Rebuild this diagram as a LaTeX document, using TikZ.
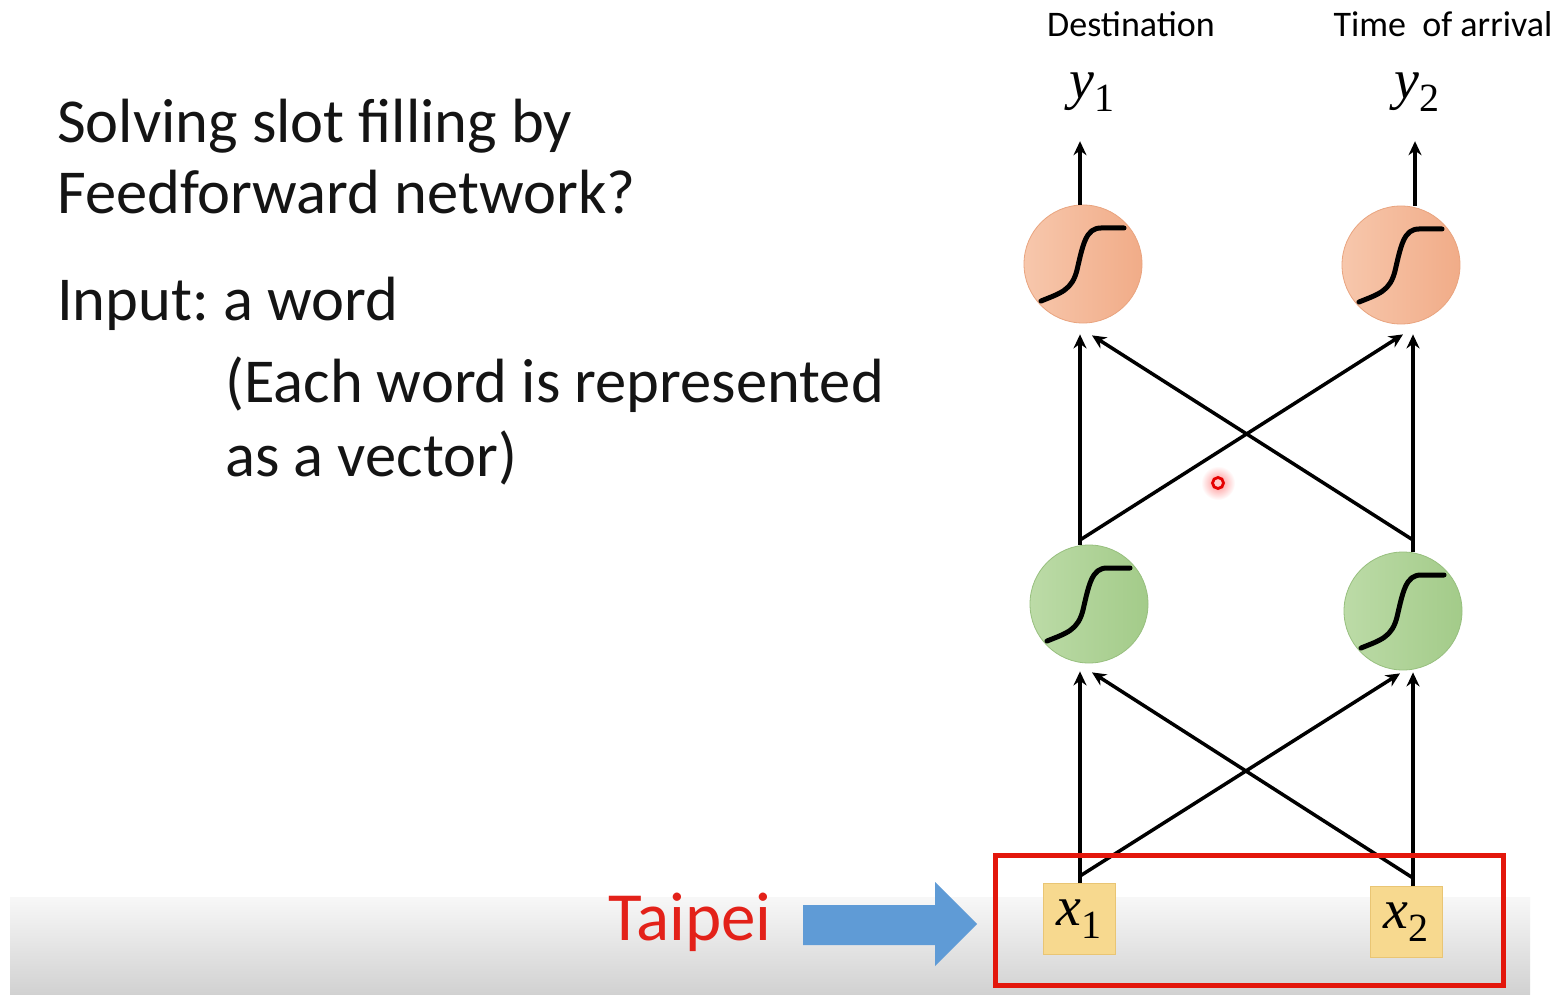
\documentclass[tikz,border=0pt]{standalone}
\usepackage{fontspec}
\setmainfont{Carlito}
\newfontfamily\serfont{Liberation Serif}
\usetikzlibrary{arrows.meta,calc}
\frenchspacing

\definecolor{txt}{HTML}{141414}
\definecolor{outl}{HTML}{F7C7AC}
\definecolor{outr}{HTML}{F1AC88}
\definecolor{outedge}{HTML}{E9A47F}
\definecolor{hidl}{HTML}{BCDBA7}
\definecolor{hidr}{HTML}{A3CB89}
\definecolor{hidedge}{HTML}{97BF7E}
\definecolor{boxfill}{HTML}{F7D98F}
\definecolor{boxedge}{HTML}{E9C574}
\definecolor{redbox}{HTML}{E3170C}
\definecolor{taipei}{HTML}{E32119}
\definecolor{bluearrow}{HTML}{5F9BD6}

% italic variable with an upright subscript, as in an equation editor
\newcommand{\subvar}[2]{{\serfont\itshape #1}\raisebox{-0.22em}{\serfont\fontsize{40}{40}\selectfont #2}}

\begin{document}
\begin{tikzpicture}[x=1pt,y=-1pt,
  arr/.style={line width=3.5pt, draw=black, -{Stealth[length=14pt,width=13pt]}},
  neuron/.style={circle, line width=0.8pt, minimum size=118pt, inner sep=0pt},
  outn/.style={neuron, draw=outedge, left color=outl, right color=outr},
  hidn/.style={neuron, draw=hidedge, left color=hidl, right color=hidr},
  inbox/.style={draw=boxedge, line width=0.8pt, fill=boxfill, minimum width=72pt,
    minimum height=71pt, inner sep=0pt, font=\fontsize{56}{56}\selectfont},
  varlabel/.style={inner sep=0pt, font=\fontsize{56}{56}\selectfont},
  head/.style={anchor=base, inner sep=0pt, font=\fontsize{36}{36}\selectfont, text=black},
  slide/.style={anchor=base west, inner sep=0pt, font=\fontsize{62.5}{62.5}\selectfont, text=txt},
  sigm/.pic={\draw[line width=5pt, line cap=round]
    (-42,37) .. controls (-22,29) and (-11,26) .. (-6,6)
    .. controls (0,-20) and (3,-36) .. (18,-36) -- (41,-36);}]

\useasboundingbox (0,0) rectangle (1566,995);
\fill[white] (0,0) rectangle (1566,995);

% grey band along the bottom
\shade[top color=white!97!black, bottom color=white!82!black] (10,897) rectangle (1530,995);

% slide text
\node[slide] (t1) at (57,143) {Solving slot filling by};
\node[slide] (t2) at (57,214) {Feedforward network?};
\node[slide] (t3) at (57,320) {Input: a word};
\node[slide] (t4) at (225,402) {(Each word is represented};
\node[slide] (t5) at (225,476) {as a vector)};

% output labels
\node[head] (d1) at (1131,37) {Destination};
\node[head] (d2) at (1443,37) {Time\ \ of arrival};
\node[varlabel] (y1) at (1092,92) {\subvar{y}{1}};
\node[varlabel] (y2) at (1417,92) {\subvar{y}{2}};

% neurons
\node[outn] (o1) at (1083,264) {};
\node[outn] (o2) at (1401,265) {};
\node[hidn] (h1) at (1089,604) {};
\node[hidn] (h2) at (1403,611) {};
\pic at (o1.center) {sigm};
\pic at (o2.center) {sigm};
\pic at (h1.center) {sigm};
\pic at (h2.center) {sigm};

% inputs
\node[inbox] (x1) at (1079,919) {\subvar{x}{1}};
\node[inbox] (x2) at (1406,922) {\subvar{x}{2}};

% junction points where the connectors leave each unit
\coordinate (j1) at (1080,876);
\coordinate (j2) at (1413,878);
\coordinate (k1) at (1080,540);
\coordinate (k2) at (1413,540);

% input layer -> hidden layer
\draw[line width=3.5pt] (x1.north) ++(1,0) -- (j1);
\draw[line width=3.5pt] (x2.north) ++(7,0) -- (j2);
\draw[arr] (j1) -- ($(h1.south)+(-9,8)$);
\draw[arr] (j1) -- ($(h2.south)+(-3,3)$);
\draw[arr] (j2) -- ($(h2.south)+(10,2)$);
\draw[arr] (j2) -- ($(h1.south)+(3,9)$);

% hidden layer -> output layer
\draw[line width=3.5pt] (h1.north) ++(-9,0) -- (k1);
\draw[line width=3.5pt] (h2.north) ++(10,0) -- (k2);
\draw[arr] (k1) -- ($(o1.south)+(-3,11)$);
\draw[arr] (k1) -- ($(o2.south)+(2,10)$);
\draw[arr] (k2) -- ($(o2.south)+(12,10)$);
\draw[arr] (k2) -- ($(o1.south)+(9,12)$);

% output layer -> outputs
\draw[arr] ($(o1.north)+(-3,0)$) -- ($(y1.south)+(-12,30)$);
\draw[arr] ($(o2.north)+(14,0)$) -- ($(y2.south)+(-2,30)$);

% the word fed to the network
\node[anchor=base, inner sep=0pt, font=\fontsize{69}{69}\selectfont, text=taipei] (w) at (690,940) {Taipei};
\fill[bluearrow] (803,905) -- (935,905) -- (935,882) -- (977,924) -- (935,966) -- (935,945) -- (803,945) -- cycle;
\node[draw=redbox, line width=5pt, minimum width=508pt, minimum height=130pt, inner sep=0pt] (inp) at (1249,920) {};

% pointer mark
\shade[inner color=red!45, outer color=white] (1218,483) circle[radius=17pt];
\draw[red!90!black, line width=2.8pt, fill=red!20] (1218,483) circle[radius=5.5pt];
\end{tikzpicture}
\end{document}
